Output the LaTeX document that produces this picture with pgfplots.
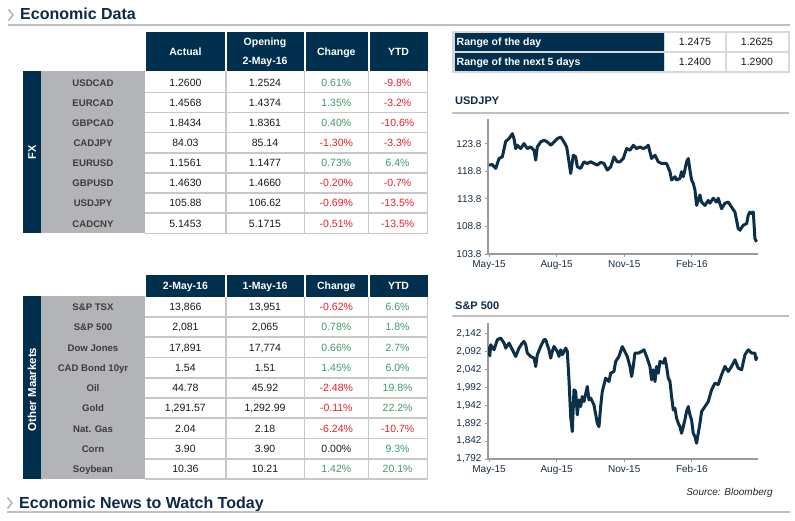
\documentclass[border=0pt]{standalone}
\usepackage{fontspec}
\setmainfont{Liberation Sans}
\usepackage{pgfplots}
\pgfplotsset{compat=1.18}
\definecolor{navy}{HTML}{00304D}
\definecolor{band}{HTML}{B3B4B8}
\definecolor{gridc}{HTML}{C8C8C8}
\definecolor{rulec}{HTML}{C0C0C0}
\definecolor{gr}{HTML}{3D9B6B}
\definecolor{rd}{HTML}{EB1E28}
\definecolor{numc}{HTML}{1A1A1A}
\definecolor{labc}{HTML}{3C3C3C}
\definecolor{linec}{HTML}{0D3049}
\definecolor{axc}{HTML}{9A9A9A}
\definecolor{titc}{HTML}{0F2A44}
\definecolor{tickc}{HTML}{1C2E42}

\newcommand\fxrow[8]{%
 \pgfmathsetmacro\yy{72.3+20.13*#1+10.07+3.8}
 \node[lab] at (93,\yy) {#2};
 \node[num] at (185.4,\yy) {#3};
 \node[num] at (265,\yy) {#4};
 \node[num,text=#6] at (336.3,\yy) {#5};
 \node[num,text=#8] at (397.6,\yy) {#7};}
\newcommand\omrow[8]{%
 \pgfmathsetmacro\yy{296.7+20.26*#1+10.13+3.8}
 \node[lab] at (93,\yy) {#2};
 \node[num] at (185.4,\yy) {#3};
 \node[num] at (265,\yy) {#4};
 \node[num,text=#6] at (336.3,\yy) {#5};
 \node[num,text=#8] at (397.6,\yy) {#7};}

\pgfplotsset{
 chart/.style={
  anchor=south west, scale only axis, width=270pt,
  xmin=-1.4, xmax=366,
  axis x line=bottom, axis y line=left,
  axis line style={-, draw=axc, line width=2pt},
  xtick={0,92,184,276}, xticklabels={May-15,Aug-15,Nov-15,Feb-16},
  tick align=outside, major tick length=3pt,
  tick style={draw=axc, line width=0.8pt},
  ticklabel style={font=\fontsize{10}{11}\selectfont, text=tickc},
 }}

\begin{document}
\begin{tikzpicture}[x=1pt,y=1pt]
\path[use as bounding box, fill=white] (0,0) rectangle (795,521);
\begin{scope}[shift={(0,521)}, yscale=-1,
  num/.style={anchor=base, inner sep=0pt, text=numc, font=\fontsize{10.5}{12}\selectfont},
  lab/.style={anchor=base, inner sep=0pt, text=labc, font=\bfseries\fontsize{9.6}{12}\selectfont},
  hd/.style={anchor=base, inner sep=0pt, text=white, font=\bfseries\fontsize{10.5}{12}\selectfont}]

% titles and rules
\draw[axc!80, line width=1.4pt] (8.5,9.5) -- (13,15) -- (8.5,20.5);
\node[anchor=base west, inner sep=0pt, text=titc, font=\bfseries\fontsize{16}{18}\selectfont] at (20,20) {Economic Data};
\draw[rulec, line width=2pt] (8,25) -- (790,25);

\draw[axc!80, line width=1.4pt] (7.5,497.5) -- (12,503) -- (7.5,508.5);
\node[anchor=base west, inner sep=0pt, text=titc, font=\bfseries\fontsize{16}{18}\selectfont] at (19,508.3) {Economic News to Watch Today};
\draw[rulec, line width=2pt] (7,512.3) -- (790,512.3);

% FX table
\fill[navy] (146,32) rectangle (225,71.5);
\fill[navy] (226.5,32) rectangle (303.5,71.5);
\fill[navy] (305.5,32) rectangle (367.5,71.5);
\fill[navy] (369.5,32) rectangle (427.5,71.5);
\node[hd] at (185.4,55.5) {Actual};
\node[hd] at (265,45.3) {Opening};
\node[hd] at (265,64.8) {2-May-16};
\node[hd] at (336.3,55.5) {Change};
\node[hd] at (398.5,55.5) {YTD};
\fill[navy] (23,71.5) rectangle (41,233.5);
\fill[band] (41,71.5) rectangle (145,233.5);
\node[rotate=90, inner sep=0pt, text=white, font=\bfseries\fontsize{11}{12}\selectfont] at (32,152.5) {FX};
\foreach \k in {1,...,8} \draw[gridc, line width=1.6pt] (145,{72.3+20.13*\k}) -- (428.1,{72.3+20.13*\k});
\foreach \xx in {225.7,304.3,368.3,427.3} \draw[gridc, line width=1.6pt] (\xx,71.5) -- (\xx,234.1);
\fxrow{0}{USDCAD}{1.2600}{1.2524}{0.61\%}{gr}{-9.8\%}{rd}
\fxrow{1}{EURCAD}{1.4568}{1.4374}{1.35\%}{gr}{-3.2\%}{rd}
\fxrow{2}{GBPCAD}{1.8434}{1.8361}{0.40\%}{gr}{-10.6\%}{rd}
\fxrow{3}{CADJPY}{84.03}{85.14}{-1.30\%}{rd}{-3.3\%}{rd}
\fxrow{4}{EURUSD}{1.1561}{1.1477}{0.73\%}{gr}{6.4\%}{gr}
\fxrow{5}{GBPUSD}{1.4630}{1.4660}{-0.20\%}{rd}{-0.7\%}{rd}
\fxrow{6}{USDJPY}{105.88}{106.62}{-0.69\%}{rd}{-13.5\%}{rd}
\fxrow{7}{CADCNY}{5.1453}{5.1715}{-0.51\%}{rd}{-13.5\%}{rd}

% Other markets table
\fill[navy] (146,275) rectangle (225,296.7);
\fill[navy] (226.5,275) rectangle (303.5,296.7);
\fill[navy] (305.5,275) rectangle (367.5,296.7);
\fill[navy] (369.5,275) rectangle (427.5,296.7);
\node[hd] at (185.4,289.6) {2-May-16};
\node[hd] at (265,289.6) {1-May-16};
\node[hd] at (336.3,289.6) {Change};
\node[hd] at (398.5,289.6) {YTD};
\fill[navy] (23,296.2) rectangle (41,479.3);
\fill[band] (41,296.2) rectangle (145,479.3);
\node[rotate=90, inner sep=0pt, text=white, font=\bfseries\fontsize{11.5}{12}\selectfont] at (32,389.5) {Other Maarkets};
\foreach \k in {1,...,9} \draw[gridc, line width=1.6pt] (145,{296.7+20.26*\k}) -- (428.1,{296.7+20.26*\k});
\foreach \xx in {225.7,304.3,368.3,427.3} \draw[gridc, line width=1.6pt] (\xx,296.7) -- (\xx,480.1);
\omrow{0}{S\&P TSX}{13,866}{13,951}{-0.62\%}{rd}{6.6\%}{gr}
\omrow{1}{S\&P 500}{2,081}{2,065}{0.78\%}{gr}{1.8\%}{gr}
\omrow{2}{Dow Jones}{17,891}{17,774}{0.66\%}{gr}{2.7\%}{gr}
\omrow{3}{CAD Bond 10yr}{1.54}{1.51}{1.45\%}{gr}{6.0\%}{gr}
\omrow{4}{Oil}{44.78}{45.92}{-2.48\%}{rd}{19.8\%}{gr}
\omrow{5}{Gold}{1,291.57}{1,292.99}{-0.11\%}{rd}{22.2\%}{gr}
\omrow{6}{Nat. Gas}{2.04}{2.18}{-6.24\%}{rd}{-10.7\%}{rd}
\omrow{7}{Corn}{3.90}{3.90}{0.00\%}{numc}{9.3\%}{gr}
\omrow{8}{Soybean}{10.36}{10.21}{1.42\%}{gr}{20.1\%}{gr}

% Range table
\fill[gridc!70] (452,31) rectangle (789.5,73);
\fill[navy] (455,33.3) rectangle (663.5,50.7);
\fill[navy] (455,52.7) rectangle (663.5,70.7);
\fill[white] (665,33.3) rectangle (725,50.7);
\fill[white] (727,33.3) rectangle (787.5,50.7);
\fill[white] (665,52.7) rectangle (725,70.7);
\fill[white] (727,52.7) rectangle (787.5,70.7);
\node[hd, anchor=base west] at (456.5,45.8) {Range of the day};
\node[hd, anchor=base west] at (456.5,65.2) {Range of the next 5 days};
\node[num] at (695,45.8) {1.2475};
\node[num] at (757,45.8) {1.2625};
\node[num] at (695,65.2) {1.2400};
\node[num] at (757,65.2) {1.2900};

% chart titles
\node[anchor=base west, inner sep=0pt, text=titc, font=\bfseries\fontsize{11}{13}\selectfont] at (455,105) {USDJPY};
\draw[rulec, line width=2pt] (452,113) -- (789,113);
\node[anchor=base west, inner sep=0pt, text=titc, font=\bfseries\fontsize{11}{13}\selectfont] at (455,309.5) {S\&P 500};
\draw[rulec, line width=2pt] (452,316) -- (789,316);
\node[anchor=base east, inner sep=0pt, text=black!85, font=\itshape\fontsize{10}{12}\selectfont] at (773,496) {Source: Bloomberg};
\end{scope}

% USDJPY chart
\begin{axis}[chart, at={(488pt,267pt)}, height=135pt,
  ymin=103.8, ymax=128.26,
  ytick={103.8,108.8,113.8,118.8,123.8},
  yticklabels={103.8,108.8,113.8,118.8,123.8}]
\addplot[draw=linec, line width=3pt, line join=round] table[row sep=\\] {
x y\\
0 119.9\\ 4.5 120.0\\ 9.1 119.3\\ 13.6 121.1\\ 18.1 121.4\\ 22.7 124.2\\ 27.2 124.7\\ 31.7 125.6\\
34 124.7\\ 36.3 122.9\\ 38.5 123.5\\ 43.1 122.9\\ 47.6 123.8\\ 52.1 122.9\\ 56.7 123.2\\ 61.2 122.6\\
63.5 120.8\\ 65.7 123.2\\ 70.3 124.1\\ 74.8 124.4\\ 79.3 124.1\\ 83.9 123.5\\ 88.4 124.1\\ 92.9 124.7\\
97.5 125.0\\ 102 124.1\\ 105.6 123.2\\ 108.8 120.5\\ 111.1 118.4\\ 114.7 121.7\\ 117.9 121.4\\ 120.1 119.6\\
124.7 119.3\\ 129.2 120.5\\ 133.7 120.2\\ 138.3 120.5\\ 142.8 120.2\\ 147.3 119.9\\ 151.9 120.4\\ 156.4 120.2\\
161 119.0\\ 165.5 119.6\\ 170 121.4\\ 174.5 120.5\\ 178.2 120.5\\ 182.7 121.1\\ 187.2 122.9\\ 191.8 122.6\\
196.3 123.5\\ 200.8 122.9\\ 205.4 123.2\\ 209.9 122.9\\ 214.4 123.2\\ 216.7 123.5\\ 221.2 121.1\\ 225.8 121.7\\
230.3 120.5\\ 234.8 120.2\\ 241.6 120.2\\ 246.2 118.7\\ 248.4 117.2\\ 253.0 117.8\\ 255.2 117.2\\ 259.8 117.5\\
262.0 118.7\\ 264.3 117.8\\ 266.5 119.0\\ 268.8 120.5\\ 271.1 121.1\\ 273.4 119.0\\ 275.6 117.2\\ 277.9 116.6\\
280.2 115.4\\ 282.4 112.6\\ 287.0 114.5\\ 289.2 113.2\\ 293.8 112.6\\ 298.3 113.5\\ 300.6 113.0\\ 305.1 113.9\\
309.6 113.2\\ 311.9 113.9\\ 316.4 112.0\\ 321.0 113.0\\ 325.5 113.2\\ 330.0 112.3\\ 334.6 111.4\\ 339.1 108.4\\
341.4 108.1\\ 345.9 109.0\\ 350.5 109.3\\ 352.7 110.8\\ 355.0 111.4\\ 357.3 111.1\\ 359.6 111.4\\ 361.8 106.6\\
364.1 106.0\\
};
\end{axis}

% S&P 500 chart
\begin{axis}[chart, at={(488pt,62pt)}, height=136pt,
  ymin=1792, ymax=2172,
  ytick={1792,1842,1892,1942,1992,2042,2092,2142},
  yticklabels={{1,792},{1,842},{1,892},{1,942},{1,992},{2,042},{2,092},{2,142}}]
\addplot[draw=linec, line width=3pt, line join=round] table[row sep=\\] {
x y\\
0 2106.5\\ 1 2080\\ 2.3 2111.2\\ 6.8 2097.2\\ 11.3 2125.2\\ 15.9 2129.9\\ 20.4 2115.9\\ 22.7 2101.9\\
27.2 2115.9\\ 31.7 2097.2\\ 36.3 2078.5\\ 40.8 2101.9\\ 45.3 2115.9\\ 47.6 2120.5\\ 49.9 2111.2\\ 52.1 2087.9\\
56.7 2078.5\\ 61.2 2073.9\\ 63.5 2050.5\\ 65.7 2083.2\\ 70.3 2106.5\\ 74.8 2125.2\\ 77.1 2125.2\\ 79.3 2111.2\\
81.6 2097.2\\ 83.9 2073.9\\ 86.1 2092.5\\ 88.4 2106.5\\ 92.9 2092.5\\ 95.2 2078.5\\ 97.5 2097.2\\ 99.7 2083.2\\
104.3 2101.9\\ 106.5 2092.5\\ 108.8 2013.2\\ 111.1 1910.5\\ 113.3 1868.6\\ 115.6 1985.2\\ 117.9 1980.5\\ 120.1 1915.2\\
122.4 1957.2\\ 124.7 1938.5\\ 126.9 1966.5\\ 129.2 1952.5\\ 133.7 1994.5\\ 136.0 1957.2\\ 138.3 1962.0\\ 142.8 1943.2\\
147.3 1892.0\\ 149.6 1882.5\\ 151.9 1938.5\\ 154.1 1980.5\\ 158.7 2017.9\\ 163.2 2008.5\\ 165.5 2031.9\\ 170.0 2036.5\\
172.3 2064.5\\ 176.8 2078.5\\ 181.3 2106\\ 183.6 2097.2\\ 188.1 2078.5\\ 191.8 2050.5\\ 194.0 2022.5\\ 196.3 2050.5\\
198.5 2087.9\\ 203.1 2087.9\\ 207.6 2092.5\\ 210.8 2097.2\\ 214.4 2078.5\\ 219.0 2050.5\\ 221.2 2013.2\\ 223.5 2041.2\\
225.8 2008.5\\ 228.0 2050.5\\ 230.3 2031.9\\ 232.6 2064.5\\ 237.1 2059.9\\ 239.4 2073.9\\ 241.6 2050.5\\ 243.9 2017.9\\
246.2 2008.5\\ 248.4 1966.5\\ 250.7 1929.2\\ 253.0 1933.9\\ 255.2 1905.9\\ 257.5 1892.0\\ 259.8 1882.5\\ 262.0 1863.9\\
264.3 1882.5\\ 266.5 1901.2\\ 268.8 1925\\ 271.1 1938.5\\ 273.4 1915.2\\ 275.6 1901.2\\ 277.9 1863.9\\ 280.2 1854.5\\
282.4 1836.0\\ 284.7 1863.9\\ 287.0 1892.0\\ 289.2 1924.5\\ 293.8 1938.5\\ 298.3 1952.5\\ 302.8 1985.2\\ 307.4 2004.0\\
311.9 2000.0\\ 316.4 2027.2\\ 321.0 2050.5\\ 325.5 2036.5\\ 330.0 2050.5\\ 334.6 2069.2\\ 339.1 2046.0\\ 343.7 2041.2\\
348.2 2083.2\\ 352.7 2097.2\\ 357.3 2087.9\\ 361.8 2087.9\\ 363.2 2069.2\\ 364.5 2078.5\\
};
\end{axis}
\end{tikzpicture}
\end{document}
